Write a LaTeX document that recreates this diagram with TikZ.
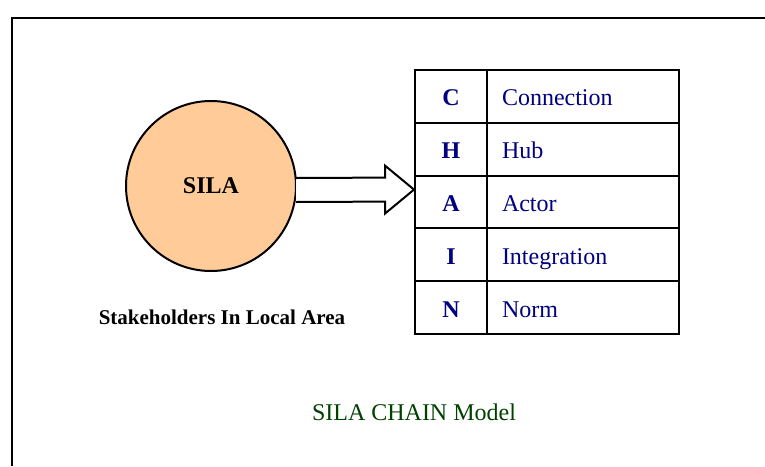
\documentclass[tikz,border=0pt]{standalone}
\usepackage{fontspec}
\setmainfont{Liberation Serif}
\usepackage{xcolor}
\usepackage{tikz}
\usetikzlibrary{positioning,calc}
\definecolor{navytext}{RGB}{0,0,128}
\definecolor{modelgreen}{RGB}{0,64,0}
\definecolor{peach}{RGB}{255,204,153}

\begin{document}
\begin{tikzpicture}[x=1pt, y=-1pt,
  frame/.style={line width=2pt, black},
  stake/.style={circle, draw, line width=2pt, fill=peach, minimum size=170pt,
    inner sep=0pt, font=\fontsize{24}{28}\selectfont\bfseries},
  letter/.style={draw, line width=2pt, minimum width=72pt, minimum height=52.8pt,
    inner sep=0pt, outer sep=0pt, text height=20pt, text depth=1pt,
    font=\fontsize{24}{28}\selectfont\bfseries, text=navytext},
  word/.style={draw, line width=2pt, minimum height=52.8pt, text width=162pt,
    inner xsep=15pt, inner ysep=0pt, outer sep=0pt, align=left,
    text height=20pt, text depth=1pt,
    font=\fontsize{24}{28}\selectfont, text=navytext},
  blockarrow/.style={draw, line width=2pt, fill=white, line join=miter},
  caption/.style={font=\fontsize{21}{25}\selectfont\bfseries},
  title/.style={font=\fontsize{24}{28}\selectfont, text=modelgreen},
]
  \useasboundingbox (0,0) rectangle (765,466);
  \draw[frame] (11.5,466) -- (11.5,18) -- (765,18);

  % circle with its caption
  \node[stake] (sila) at (211,186) {SILA};
  \node[caption] (stakeholders) at (222,317) {Stakeholders In Local Area};

  % the CHAIN table
  \node[letter] (cC) at (451,96.4) {C};
  \node[letter, below=0pt of cC] (cH) {H};
  \node[letter, below=0pt of cH] (cA) {A};
  \node[letter, below=0pt of cA] (cI) {I};
  \node[letter, below=0pt of cI] (cN) {N};

  \node[word, right=0pt of cC] (wC) {Connection};
  \node[word, right=0pt of cH] (wH) {Hub};
  \node[word, right=0pt of cA] (wA) {Actor};
  \node[word, right=0pt of cI] (wI) {Integration};
  \node[word, right=0pt of cN] (wN) {Norm};

  % block arrow from the circle to the table
  \coordinate (tip) at ($(cA.north west)+(-1,14)$);
  \draw[blockarrow] ($(sila.east)+(-1,-8)$) -- ($(tip)+(-29,-12)$)
    -- ($(tip)+(-29,-24)$) -- (tip) -- ($(tip)+(-29,24)$)
    -- ($(tip)+(-29,12)$) -- ($(sila.east)+(-1,16)$);

  \node[title] (model) at (414,412) {SILA CHAIN Model};
\end{tikzpicture}
\end{document}
